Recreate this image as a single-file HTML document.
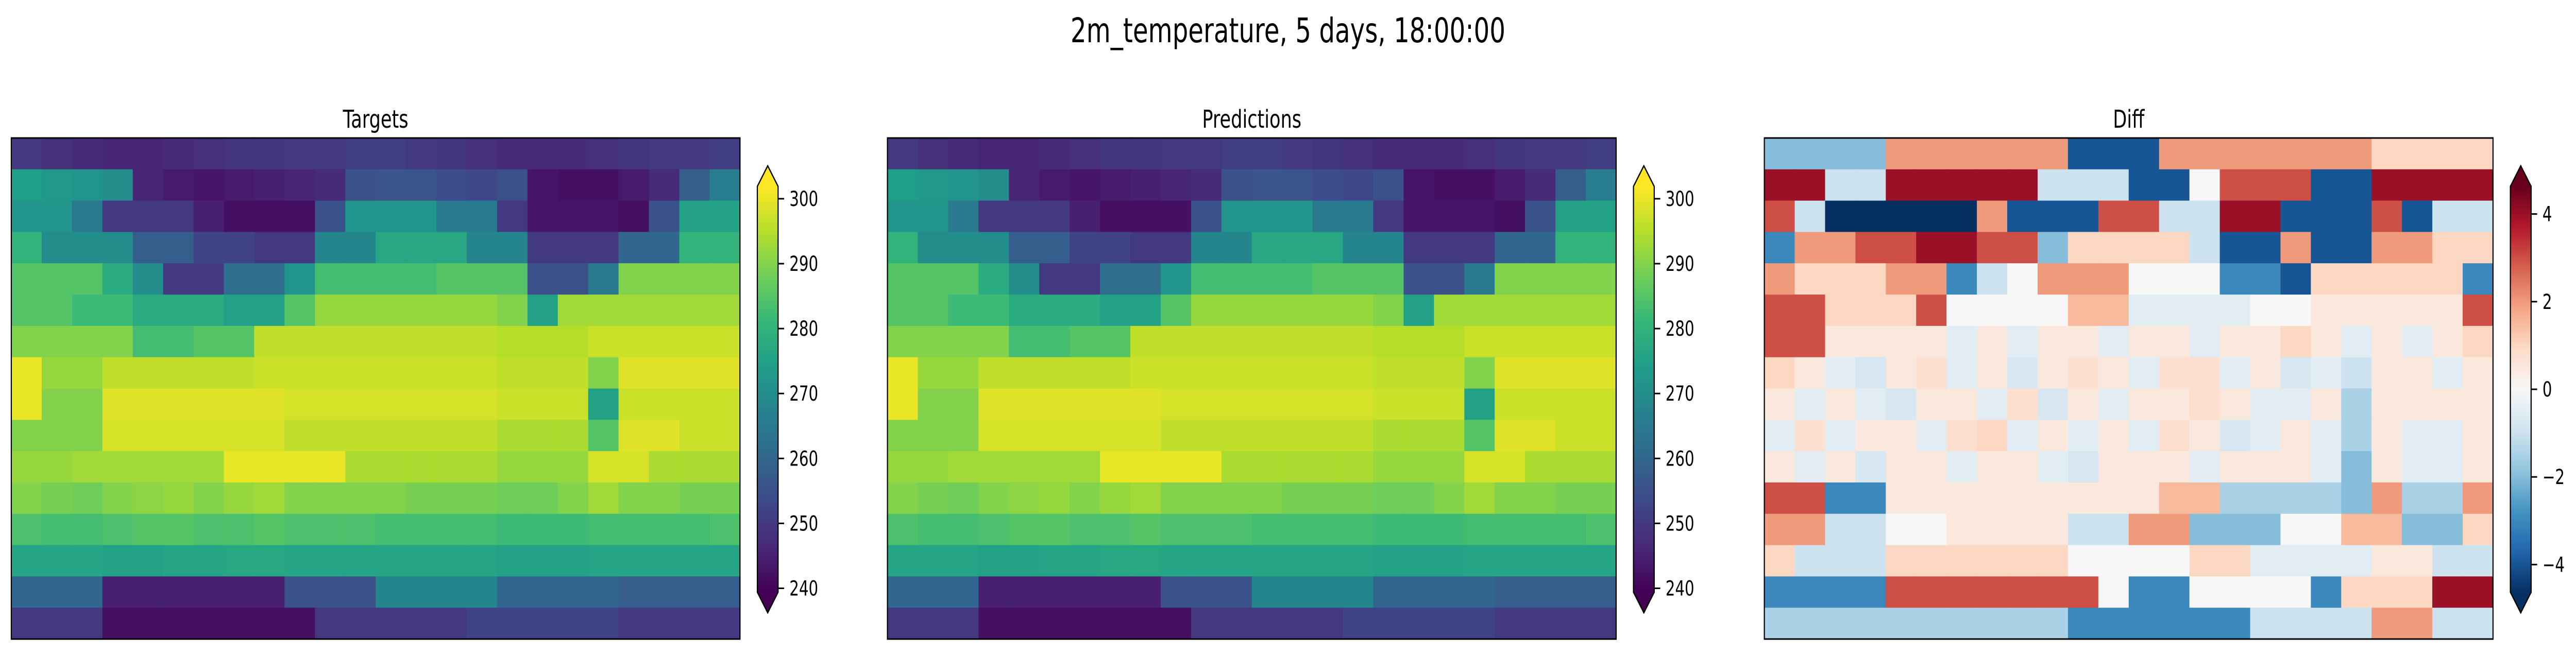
<!DOCTYPE html>
<html><head><meta charset="utf-8"><style>
html,body{margin:0;padding:0;background:#fff;width:100%;height:100%;overflow:hidden;}
svg{display:block;width:100vw;height:100vh;font-family:"DejaVu Sans","Liberation Sans",sans-serif;}
</style></head><body>
<svg id="fig" viewBox="0 0 6830 1272" preserveAspectRatio="none" xmlns="http://www.w3.org/2000/svg" overflow="hidden">
<text x="3415" y="82" font-size="66" text-anchor="middle">2m_temperature, 5 days, 18:00:00</text>
</svg>
<script>
// ---- data (16 latitude rows x 24 longitude cols) ----
const targetRows = [
[250,248,247,246,246,247,248,249,249,250,250,251,251,250,249,248,247,247,247,248,249,250,250,251],
[274,273,272,270,246,244,243,244,245,246,247,255,256,256,254,253,255,243,242,242,244,247,258,266],
[272,272,265,250,250,250,245,242,242,242,255,272,272,272,265,265,250,243,243,243,242,255,275,275],
[280,270,270,270,258,258,252,252,250,250,268,268,277,277,277,268,268,250,250,250,260,260,280,280],
[285,285,285,278,270,250,250,262,262,272,283,283,283,283,285,285,285,255,255,265,290,290,290,290],
[285,285,282,282,278,278,278,275,275,285,292,292,292,292,292,292,290,275,293,293,293,293,293,293],
[290,290,290,290,283,283,285,285,296,296,296,296,296,296,296,296,295,295,295,297,297,297,297,297],
[300,292,292,296,296,296,296,296,297,297,297,297,297,297,297,297,296,296,296,290,299,299,299,299],
[300,290,290,299,299,299,299,299,299,298,298,298,298,298,298,298,297,297,297,275,297,297,297,297],
[290,290,290,298,298,298,298,298,298,296,296,296,296,296,296,296,294,294,294,285,299,299,297,297],
[292,292,293,293,293,293,293,300,300,300,300,294,294,294,294,294,292,292,292,298,298,294,294,294],
[290,289,288,290,291,292,290,292,293,290,290,290,290,289,289,289,288,288,290,293,290,290,289,289],
[284,283,283,284,285,285,284,284,285,284,284,284,283,283,283,283,282,282,282,283,283,283,283,284],
[276,276,276,275,275,276,276,277,277,276,276,276,276,276,276,276,275,275,275,276,276,276,276,276],
[260,260,260,245,245,245,245,245,245,255,255,255,268,268,268,268,260,260,260,260,258,258,258,258],
[250,250,250,242,242,242,242,242,242,242,250,250,250,250,250,252,252,252,252,252,250,250,250,250]
];
const predictionRows = targetRows;
const diffRows = [
[-2,-2,-2,-2,2,2,2,2,2,2,-4,-4,-4,2,2,2,2,2,2,2,1,1,1,1],
[4,4,-1,-1,4,4,4,4,4,-1,-1,-1,-4,-4,0,3,3,3,-4,-4,4,4,4,4],
[3,-1,-5,-5,-5,-5,-5,2,-4,-4,-4,3,3,-1,-1,4,4,-4,-4,-4,3,-4,-1,-1],
[-3,2,2,3,3,4,4,3,3,-2,1,1,1,1,-1,-4,-4,2,-4,-4,2,2,1,1],
[2,1,1,1,2,2,-3,-1,0,2,2,2,0,0,0,-3,-3,-4,1,1,1,1,1,-3],
[3,3,1,1,1,3,0,0,0,0,1.5,1.5,-0.5,-0.5,-0.5,-0.5,0,0,0.5,0.5,0.5,0.5,0.5,3],
[3,3,0.5,0.5,0.5,0.5,-0.5,0.5,-0.5,0.5,0.5,-0.5,0.5,0.5,-0.5,0.5,0.5,1,0.5,-0.5,0.5,-0.5,0.5,1],
[1,0.5,-0.5,-0.8,0.5,0.8,-0.5,0.5,-0.8,0.5,0.8,0.5,-0.5,0.8,0.8,-0.5,0.5,-0.8,-0.5,-1,0.5,0.5,-0.5,0.5],
[0.5,-0.5,0.5,-0.5,-0.8,0.5,0.5,-0.5,0.8,-0.8,0.5,-0.5,0.5,0.5,0.8,0.5,-0.5,-0.5,0.5,-1.5,0.5,0.5,0.5,0.5],
[-0.5,0.8,-0.5,0.5,0.5,-0.5,0.8,1,-0.5,0.5,-0.5,0.5,-0.5,0.8,0.5,-0.8,-0.5,0.5,-0.5,-1.5,0.5,-0.5,-0.5,0.5],
[0.5,-0.5,0.5,-0.8,0.5,0.5,-0.5,0.5,0.5,-0.5,-0.8,0.5,0.5,0.5,-0.5,0.5,0.5,0.5,-0.5,-2,0.5,-0.5,-0.5,0.5],
[3,3,-3,-3,0.5,0.5,0.5,0.5,0.5,0.5,0.5,0.5,0.5,1.5,1.5,-1.5,-1.5,-1.5,-1.5,-2,2,-1.5,-1.5,2],
[2,2,-1,-1,0,0,0.5,0.5,0.5,0.5,-1,-1,2,2,-2,-2,-2,0,0,1.5,1.5,-2,-2,1],
[1,-1,-1,-1,1,1,1,1,1,1,0,0,0,0,1,1,-0.5,-0.5,-0.5,-0.5,0.5,0.5,-1,-1],
[-3,-3,-3,-3,3,3,3,3,3,3,3,0,-3,-3,0,0,0,0,-3,1,1,1,4,4],
[-1.5,-1.5,-1.5,-1.5,-1.5,-1.5,-1.5,-1.5,-1.5,-1.5,-3,-3,-3,-3,-3,-3,-1,-1,-1,-1,2,2,-1,-1]
];
const tempTicks = [240,250,260,270,280,290,300];
const diffTicks = [-4,-2,0,2,4];
const panelTitles = ["Targets","Predictions","Diff"];

// ---- colormaps ----
const VIR = ["#440154","#482878","#3e4989","#31688e","#26828e","#1f9e89","#35b779","#6ece58","#b5de2b","#fde725"];
const RDBU = ["#053061","#2166ac","#4393c3","#92c5de","#d1e5f0","#f7f7f7","#fddbc7","#f4a582","#d6604d","#b2182b","#67001f"];
function hex(h){return [1,3,5].map(i=>parseInt(h.substr(i,2),16));}
function cmap(stops,t){t=Math.max(0,Math.min(1,t));const n=stops.length-1;const i=Math.min(n-1,Math.floor(t*n));const f=t*n-i;const a=hex(stops[i]),b=hex(stops[i+1]);return "rgb("+a.map((v,k)=>Math.round(v+(b[k]-v)*f)).join(",")+")";}

const NS="http://www.w3.org/2000/svg";
const svg=document.getElementById("fig");
function el(tag,attrs,parent){const e=document.createElementNS(NS,tag);for(const k in attrs)e.setAttribute(k,attrs[k]);(parent||svg).appendChild(e);return e;}

const panelX=[30,2353,4678], PW=1932, PT=268, PB=1241;
const CBT=362, CBB=1150;
const specs=[
 {rows:targetRows,stops:VIR,vmin:239.4,vmax:301.9,ticks:tempTicks,name:"targets"},
 {rows:predictionRows,stops:VIR,vmin:239.4,vmax:301.9,ticks:tempTicks,name:"predictions"},
 {rows:diffRows,stops:RDBU,vmin:-4.63,vmax:4.63,ticks:diffTicks,name:"diff"}
];
const defs=el("defs",{});
specs.forEach((s,p)=>{
 const x0=panelX[p];
 const nR=s.rows.length,nC=s.rows[0].length;
 const cw=PW/nC,ch=(PB-PT)/nR;
 const xScale=c=>x0+c*cw, yScale=r=>PT+r*ch;
 const norm=v=>(v-s.vmin)/(s.vmax-s.vmin);
 const g=el("g",{});
 
 
 s.rows.forEach((row,r)=>row.forEach((v,c)=>{
   const w=(c===nC-1)?cw:cw+1, h=(r===nR-1)?ch:ch+1;
   const rc=el("rect",{x:xScale(c),y:yScale(r),width:w,height:h,fill:cmap(s.stops,norm(v))},g);
   
   
 }));
 const fr=el("rect",{x:x0,y:PT,width:PW,height:PB-PT,fill:"none",stroke:"#000","stroke-width":3});
 
 
 const tt=el("text",{x:x0+PW/2,y:248,"font-size":48,"text-anchor":"middle"});
 tt.textContent=panelTitles[p];
 
 
 // colorbar
 const cx=x0+PW+46, cwid=55;
 const gid="grad"+p;
 const lg=el("linearGradient",{id:gid,x1:0,y1:1,x2:0,y2:0},defs);
 s.stops.forEach((c,i)=>el("stop",{offset:i/(s.stops.length-1),"stop-color":c},lg));
 const cb=el("rect",{x:cx,y:CBT,width:cwid,height:CBB-CBT,fill:"url(#"+gid+")"});
 
 
 const top=el("polygon",{points:`${cx},${CBT} ${cx+cwid/2},${CBT-40} ${cx+cwid},${CBT}`,fill:s.stops[s.stops.length-1]});
 
 
 const bot=el("polygon",{points:`${cx},${CBB} ${cx+cwid/2},${CBB+40} ${cx+cwid},${CBB}`,fill:s.stops[0]});
 
 
 el("polygon",{points:`${cx},${CBT} ${cx+cwid/2},${CBT-40} ${cx+cwid},${CBT} ${cx+cwid},${CBB} ${cx+cwid/2},${CBB+40} ${cx},${CBB}`,fill:"none",stroke:"#000","stroke-width":3});
 const cbY=v=>CBB-(v-s.vmin)/(s.vmax-s.vmin)*(CBB-CBT);
 s.ticks.forEach(t=>{
   const y=cbY(t);
   el("line",{x1:cx+cwid,x2:cx+cwid+16,y1:y,y2:y,stroke:"#000","stroke-width":3});
   const lb=el("text",{x:cx+cwid+30,y:y+14,"font-size":40});
   lb.textContent=t<0?"\u2212"+Math.abs(t):String(t);
   
   
 });
});
</script>
</body></html>
